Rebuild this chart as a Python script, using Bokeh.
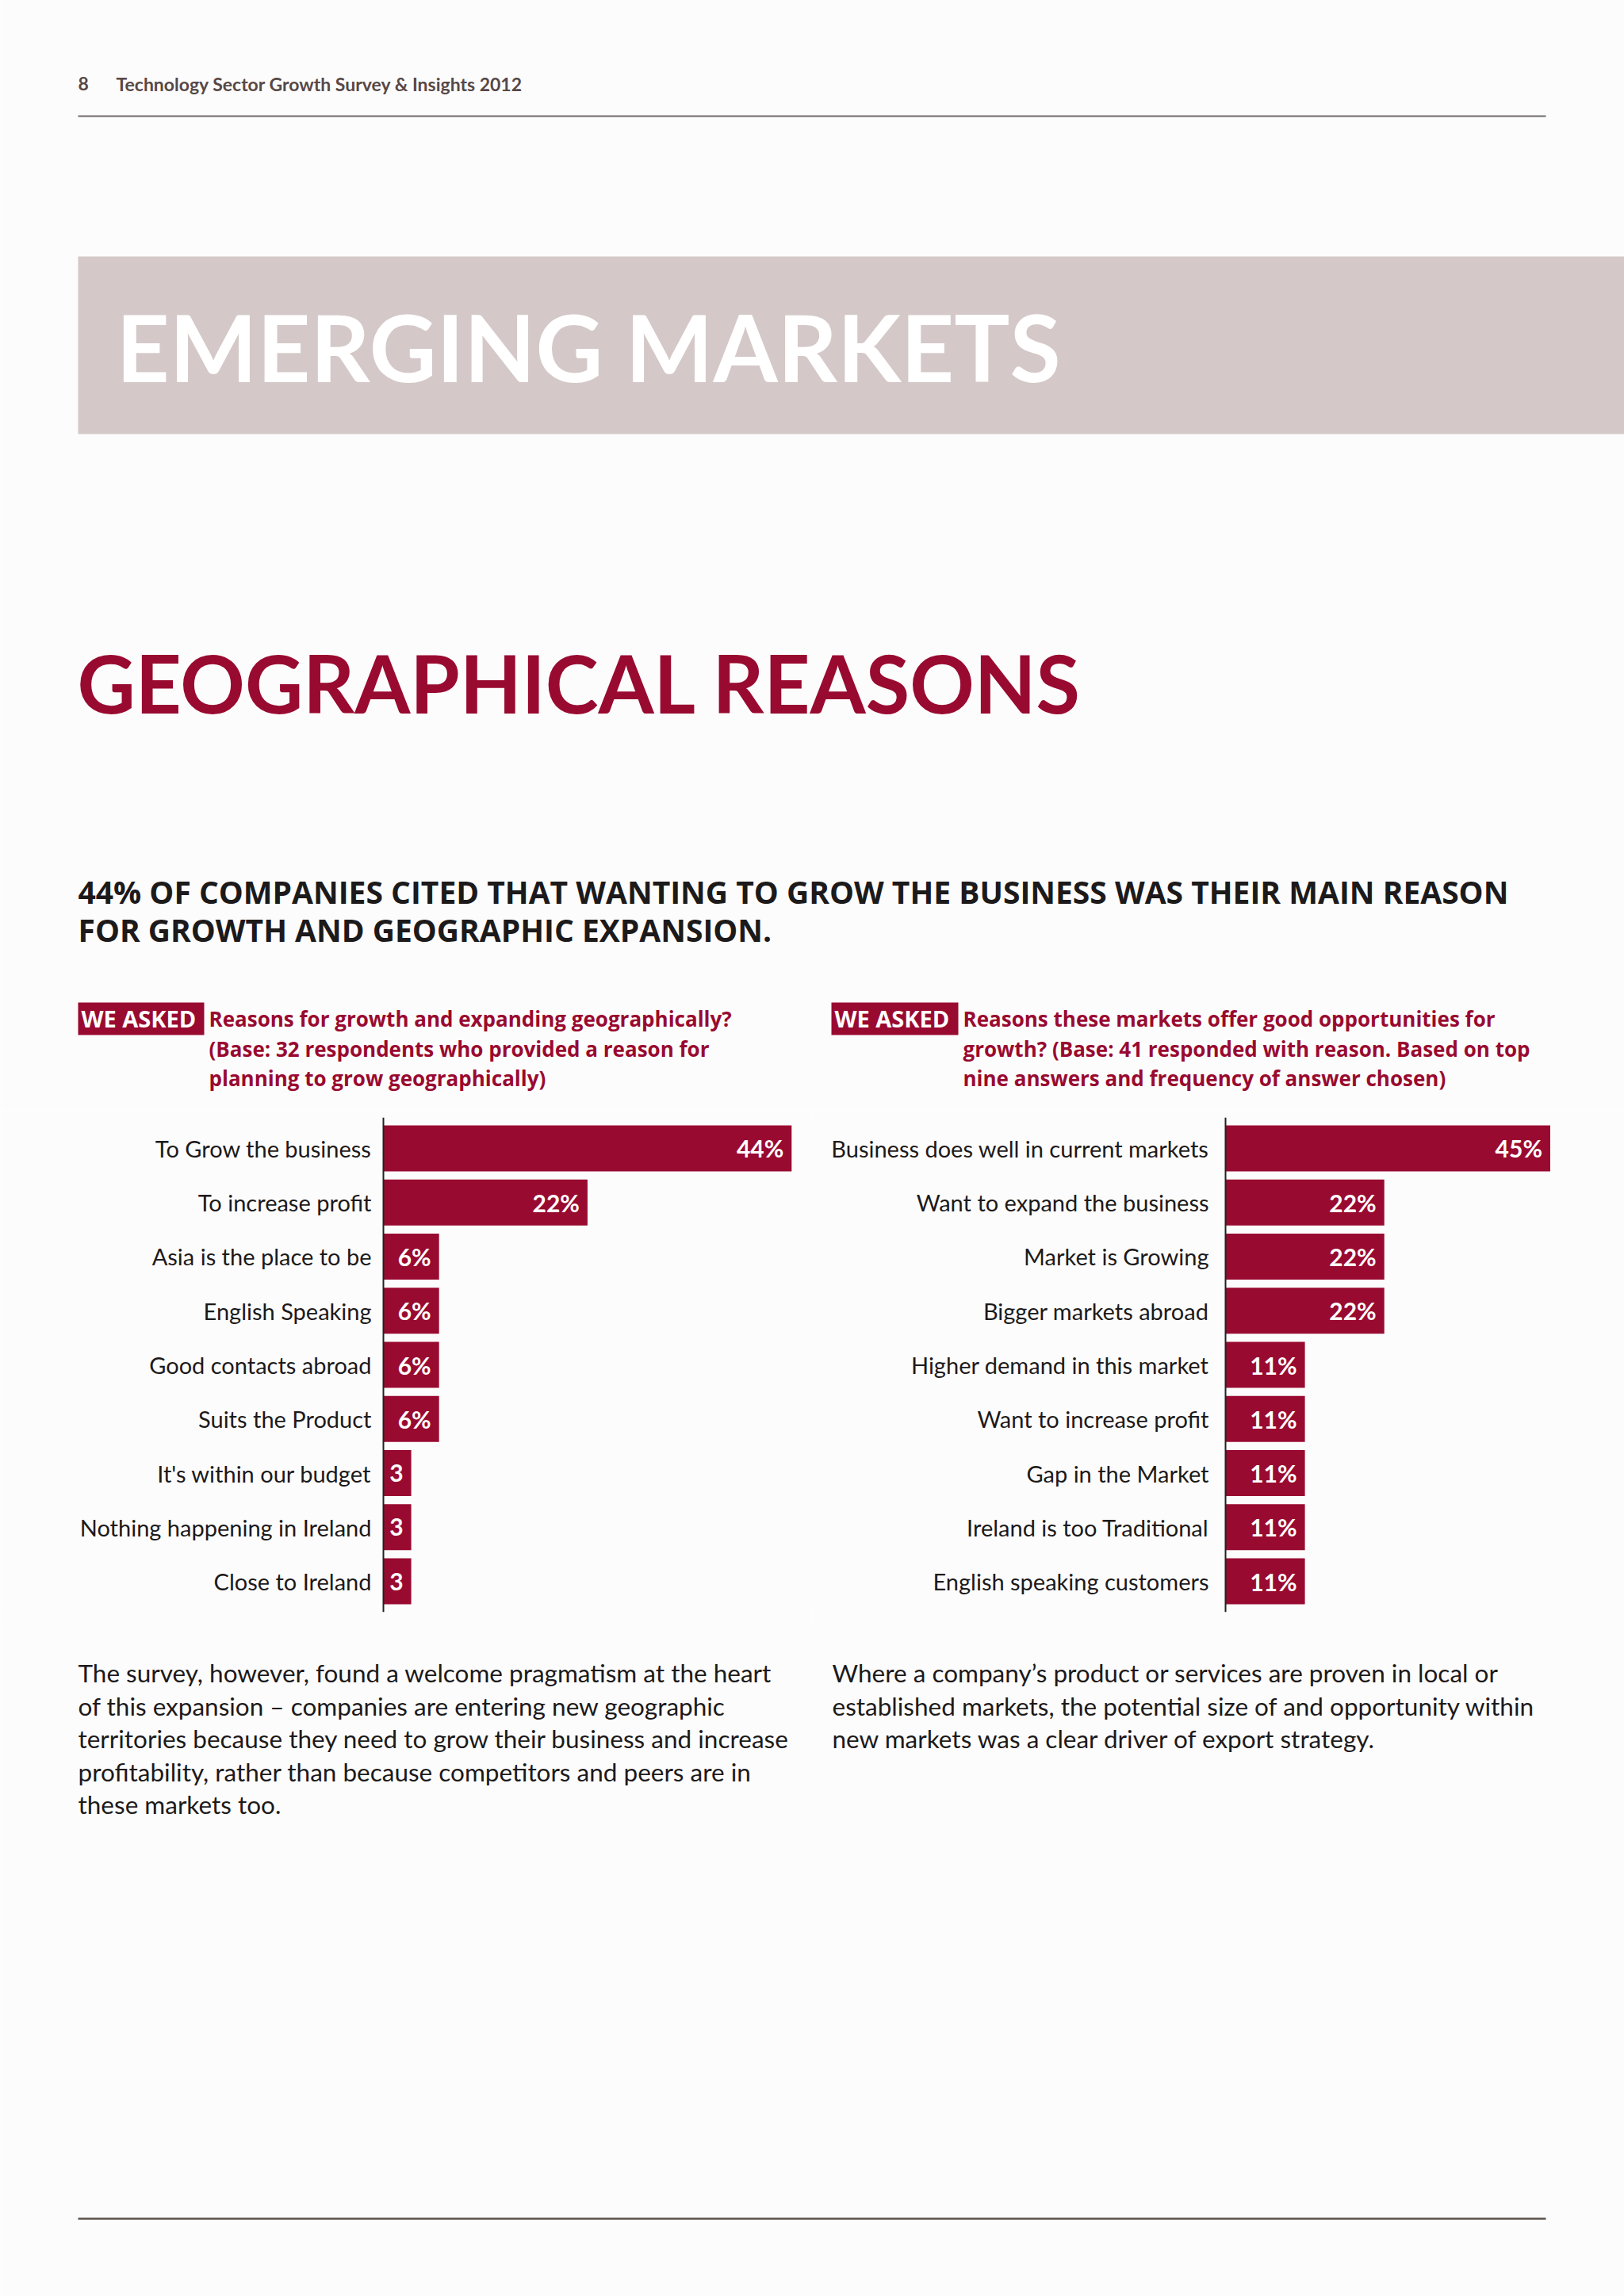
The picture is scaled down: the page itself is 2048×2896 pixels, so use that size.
from bokeh.plotting import figure
from bokeh.models import Range1d, FactorRange, ColumnDataSource, Span
from bokeh.layouts import column, row
from bokeh.embed import file_html
from bokeh.resources import INLINE
from bokeh.core.properties import value

# ---------------- data ----------------
left_categories = ["To Grow the business", "To increase profit", "Asia is the place to be",
                   "English Speaking", "Good contacts abroad", "Suits the Product",
                   "It's within our budget", "Nothing happening in Ireland", "Close to Ireland"]
left_values = [44, 22, 6, 6, 6, 6, 3, 3, 3]
left_labels = ["44%", "22%", "6%", "6%", "6%", "6%", "3", "3", "3"]

right_categories = ["Business does well in current markets", "Want to expand the business",
                    "Market is Growing", "Bigger markets abroad", "Higher demand in this market",
                    "Want to increase profit", "Gap in the Market", "Ireland is too Traditional",
                    "English speaking customers"]
right_values = [45, 22, 22, 22, 11, 11, 11, 11, 11]
right_labels = ["45%", "22%", "22%", "22%", "11%", "11%", "11%", "11%", "11%"]

header_text = "Technology Sector Growth Survey & Insights 2012"
page_number = "8"
band_title = "EMERGING MARKETS"
section_title = "GEOGRAPHICAL REASONS"
headline_lines = ["44% OF COMPANIES CITED THAT WANTING TO GROW THE BUSINESS WAS THEIR MAIN REASON",
                  "FOR GROWTH AND GEOGRAPHIC EXPANSION."]
tag_text = "WE ASKED"
left_question = ["Reasons for growth and expanding geographically?",
                 "(Base: 32 respondents who provided a reason for",
                 "planning to grow geographically)"]
right_question = ["Reasons these markets offer good opportunities for",
                  "growth? (Base: 41 responded with reason. Based on top",
                  "nine answers and frequency of answer chosen)"]
left_paragraph = ["The survey, however, found a welcome pragmatism at the heart",
                  "of this expansion \u2013 companies are entering new geographic",
                  "territories because they need to grow their business and increase",
                  "profitability, rather than because competitors and peers are in",
                  "these markets too."]
right_paragraph = ["Where a company\u2019s product or services are proven in local or",
                   "established markets, the potential size of and opportunity within",
                   "new markets was a clear driver of export strategy."]

# ---------------- style ----------------
CRIMSON = "#990a30"
BG = "#fdfcfc"
BAND = "#d4c9c8"
INK = "#1c1a1a"
FONT = "Lato"
FONT2 = "Open Sans"


def page_fig(height, y0, y1):
    p = figure(width=2048, height=height, x_range=Range1d(0, 2048), y_range=Range1d(y1, y0),
               toolbar_location=None, output_backend="svg", min_border=0,
               x_axis_location=None, y_axis_location=None,
               background_fill_color=BG, border_fill_color=BG, outline_line_color=None)
    p.grid.visible = False
    return p


def txt(p, x, baseline, s, size, color, style="normal", font=FONT):
    # place text by its baseline (middle-of-em-box anchor, ~0.385 em above baseline)
    if size % 100 == 0:  # avoid sizes like 100px (font-string parsing quirk)
        size += 1
    p.text(x=[x], y=[baseline - 0.385 * size], text=[s], text_font=value(font),
           text_font_size="%gpx" % size, text_color=color, text_font_style=style,
           text_align="left", text_baseline="middle")


# ---------------- top part ----------------
top = page_fig(1400, 0, 1400)
txt(top, 98, 114, page_number, 23, "#574846", "bold")
txt(top, 146, 114, header_text, 23, "#574846", "bold")
top.segment(x0=[98], y0=[146], x1=[1949], y1=[146], line_color="#6e6a6a", line_width=2)
top.quad(left=[98], right=[2048], top=[323], bottom=[547], fill_color=BAND, line_color=None)
txt(top, 146, 482, band_title, 117, "white", "bold")
txt(top, 97, 899, section_title, 101, CRIMSON, "bold")
for i, line in enumerate(headline_lines):
    txt(top, 98, 1139 + i * 48, line, 39, INK, "bold", FONT2)

for bx0, bx1, qx, lines in [(98, 257, 263, left_question), (1048, 1208, 1214, right_question)]:
    top.quad(left=[bx0], right=[bx1], top=[1264], bottom=[1305], fill_color=CRIMSON, line_color=None)
    txt(top, bx0 + 4, 1295, tag_text, 29, "white", "bold", FONT2)
    for i, line in enumerate(lines):
        txt(top, qx, 1295 + i * 37.5, line, 26, CRIMSON, "bold", FONT2)


# ---------------- charts ----------------
def bar_chart(cats, vals, labels, axis_px, px_per_unit, standoff):
    width = 1024
    src = ColumnDataSource(dict(cat=cats, v=vals, lab=labels, base=[0] * len(cats)))
    p = figure(width=width, height=650,
               y_range=FactorRange(*reversed(cats), range_padding=0.07, range_padding_units="absolute"),
               x_range=Range1d(-axis_px / px_per_unit, (width - axis_px) / px_per_unit),
               x_axis_location=None, y_axis_location=None,
               toolbar_location=None, output_backend="svg",
               min_border_left=0, min_border_right=0, min_border_top=9, min_border_bottom=17,
               background_fill_color=BG, border_fill_color=BG, outline_line_color=None)
    p.grid.visible = False
    p.hbar(y="cat", right="v", left="base", height=0.85, source=src,
           fill_color=CRIMSON, line_color=None)
    p.add_layout(Span(location=0, dimension="height", line_color="#222222", line_width=2))
    # value labels inside the bars
    p.text(x="v", y="cat", text="lab", source=src, x_offset=-10, text_align="right",
           text_baseline="middle", text_color="white", text_font=value(FONT),
           text_font_style="bold", text_font_size="30px")
    # category labels left of the axis
    p.text(x="base", y="cat", text="cat", source=src, x_offset=-standoff, text_align="right",
           text_baseline="middle", text_color=INK, text_font=value(FONT),
           text_font_size="29px")
    return p


left_chart = bar_chart(left_categories, left_values, left_labels, 483, 11.7, 15)
right_chart = bar_chart(right_categories, right_values, right_labels, 521, 9.1, 21)

# ---------------- bottom part ----------------
bottom = page_fig(846, 2050, 2896)
for i, line in enumerate(left_paragraph):
    txt(bottom, 98, 2122 + i * 41.5, line, 31.5, INK)
for i, line in enumerate(right_paragraph):
    txt(bottom, 1049, 2122 + i * 41.5, line, 31.5, INK)
bottom.segment(x0=[98], y0=[2798], x1=[1949], y1=[2798], line_color="#5b524c", line_width=2.5)

layout = column(top, row(left_chart, right_chart, spacing=0), bottom, spacing=0)
open("out.html", "w").write(file_html(layout, INLINE))
